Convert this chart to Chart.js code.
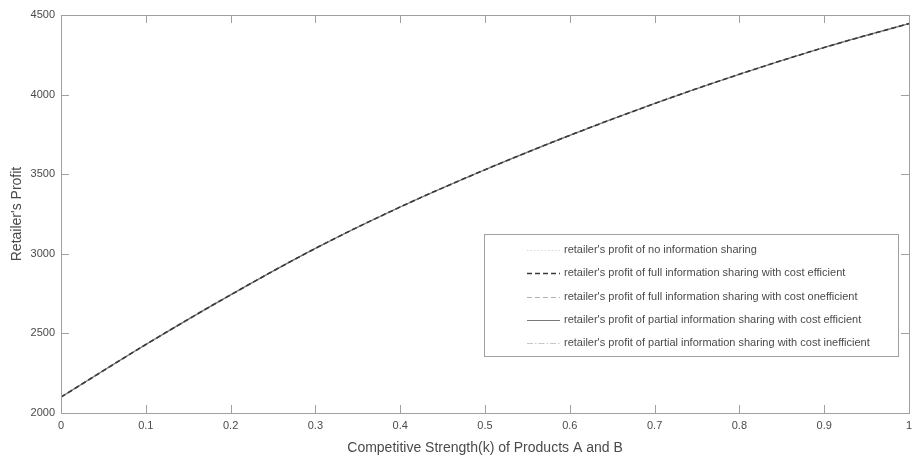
<!DOCTYPE html>
<html>
<head>
<meta charset="utf-8">
<script src="https://cdn.jsdelivr.net/npm/chart.js@4.4.1/dist/chart.umd.min.js"></script>
<style>
  html, body { margin: 0; padding: 0; background: #fff; }
  #wrap { width: 914px; height: 458px; position: relative; }
</style>
</head>
<body>
<div id="wrap"><canvas id="c"></canvas></div>
<script>
  // k values (competitive strength) and profit
  const kValues = [0, 0.1, 0.2, 0.3, 0.4, 0.5, 0.6, 0.7, 0.8, 0.9, 1.0];
  const profitNoShare        = [2100, 2430, 2742, 3034, 3294, 3528, 3744, 3944, 4128, 4296, 4446];
  const profitFullEfficient  = [2100, 2430, 2742, 3034, 3294, 3528, 3744, 3944, 4128, 4296, 4446];
  const profitFullInefficient= [2100, 2430, 2742, 3034, 3294, 3528, 3744, 3944, 4128, 4296, 4446];
  const profitPartEfficient  = [2100, 2430, 2742, 3034, 3294, 3528, 3744, 3944, 4128, 4296, 4446];
  const profitPartInefficient= [2100, 2430, 2742, 3034, 3294, 3528, 3744, 3944, 4128, 4296, 4446];

  const seriesLabels = [
    "retailer's profit of no information sharing",
    "retailer's profit of full information sharing with cost efficient",
    "retailer's profit of full information sharing with cost onefficient",
    "retailer's profit of partial information sharing with cost efficient",
    "retailer's profit of partial information sharing with cost inefficient"
  ];

  const xTicks = [0, 0.1, 0.2, 0.3, 0.4, 0.5, 0.6, 0.7, 0.8, 0.9, 1];
  const yTicks = [2000, 2500, 3000, 3500, 4000, 4500];

  const FONT = '"Liberation Sans", Arial, sans-serif';
  const TXT = '#4a4a4a';
  const BOX = '#a0a0a0';

  function pts(arr) {
    return kValues.map((k, i) => ({ x: k, y: arr[i] }));
  }

  // Linienstile wie im Original (alle Kurven liegen übereinander)
  const styles = [
    { color: '#d8d8d8', dash: [1.5, 2], width: 1.2 },
    { color: '#3a3a3a', dash: [5, 3],   width: 1.6 },
    { color: '#b0b0b0', dash: [5, 3],   width: 1.2 },
    { color: '#7a7a7a', dash: [],       width: 1.2 },
    { color: '#c8c8c8', dash: [6, 2, 1.5, 2], width: 1.2 }
  ];
  const allData = [profitNoShare, profitFullEfficient, profitFullInefficient, profitPartEfficient, profitPartInefficient];
  // dunkle gestrichelte Linie oben zeichnen
  const drawOrder = [5, 1, 3, 2, 4];

  const datasets = allData.map((arr, i) => ({
    label: seriesLabels[i],
    data: pts(arr),
    borderColor: styles[i].color,
    borderDash: styles[i].dash,
    borderWidth: styles[i].width,
    pointRadius: 0,
    fill: false,
    cubicInterpolationMode: 'monotone',
    order: drawOrder[i]
  }));

  // Rahmen mit Ticks nach innen (MATLAB-Optik) + Legende im Plot
  const boxPlugin = {
    id: 'boxPlugin',
    afterDraw(chart) {
      const { ctx, chartArea: a, scales } = chart;
      ctx.save();
      ctx.strokeStyle = BOX;
      ctx.lineWidth = 1;
      ctx.setLineDash([]);
      ctx.strokeRect(Math.round(a.left) + 0.5, Math.round(a.top) + 0.5,
        Math.round(a.right - a.left), Math.round(a.bottom - a.top));
      const tl = 8;
      ctx.beginPath();
      xTicks.forEach(v => {
        const x = Math.round(scales.x.getPixelForValue(v)) + 0.5;
        ctx.moveTo(x, a.bottom); ctx.lineTo(x, a.bottom - tl);
        ctx.moveTo(x, a.top); ctx.lineTo(x, a.top + tl);
      });
      yTicks.forEach(v => {
        const y = Math.round(scales.y.getPixelForValue(v)) + 0.5;
        ctx.moveTo(a.left, y); ctx.lineTo(a.left + tl, y);
        ctx.moveTo(a.right, y); ctx.lineTo(a.right - tl, y);
      });
      ctx.stroke();

      // Legende
      const lx = 484, ly = 234, lw = 414, lh = 122;
      ctx.fillStyle = '#fff';
      ctx.fillRect(lx, ly, lw, lh);
      ctx.strokeStyle = BOX;
      ctx.strokeRect(lx + 0.5, ly + 0.5, lw, lh);
      ctx.font = '11px ' + FONT;
      ctx.textBaseline = 'middle';
      seriesLabels.forEach((lab, i) => {
        const y = 250 + i * 23.3;
        ctx.beginPath();
        ctx.strokeStyle = styles[i].color;
        ctx.lineWidth = styles[i].width;
        ctx.setLineDash(styles[i].dash);
        ctx.moveTo(527, Math.round(y) + 0.5);
        ctx.lineTo(560, Math.round(y) + 0.5);
        ctx.stroke();
        ctx.setLineDash([]);
        ctx.fillStyle = TXT;
        ctx.fillText(lab, 564, y);
      });
      ctx.restore();
    }
  };

  new Chart(document.getElementById('c'), {
    type: 'line',
    data: { datasets },
    options: {
      responsive: true,
      maintainAspectRatio: false,
      animation: false,
      layout: { padding: { top: 15, right: 5, left: 0, bottom: 0 } },
      plugins: { legend: { display: false }, tooltip: { enabled: false } },
      scales: {
        x: {
          type: 'linear',
          min: 0, max: 1,
          afterBuildTicks: (s) => { s.ticks = xTicks.map(v => ({ value: v })); },
          afterFit: (s) => { s.height = 45; s.paddingRight = 0; },
          grid: { display: false, drawTicks: false, tickLength: 0 },
          border: { display: false },
          ticks: {
            color: TXT, font: { family: FONT, size: 11 }, padding: 6, maxRotation: 0,
            callback: (v) => String(v)
          },
          title: {
            display: true, text: 'Competitive Strength(k) of Products A and B',
            color: TXT, font: { family: FONT, size: 14 }, padding: { top: 4, bottom: 1 }
          }
        },
        y: {
          min: 2000, max: 4500,
          afterBuildTicks: (s) => { s.ticks = yTicks.map(v => ({ value: v })); },
          afterFit: (s) => { s.width = 61; },
          grid: { display: false, drawTicks: false, tickLength: 0 },
          border: { display: false },
          ticks: {
            color: TXT, font: { family: FONT, size: 11 }, padding: 6,
            callback: (v) => String(v)
          },
          title: {
            display: true, text: "Retailer's Profit",
            color: TXT, font: { family: FONT, size: 14 }, padding: { top: 9, bottom: 0 }
          }
        }
      }
    },
    plugins: [boxPlugin]
  });
</script>
</body>
</html>
